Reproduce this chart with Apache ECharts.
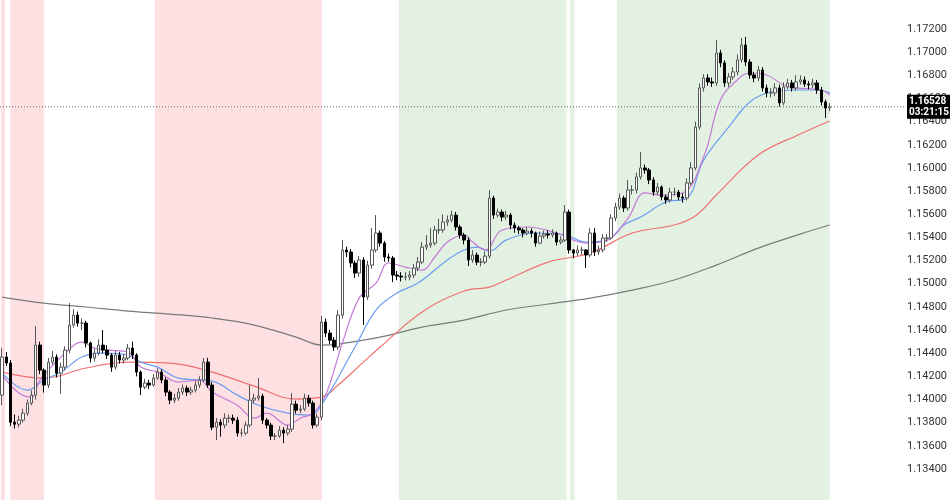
<!DOCTYPE html>
<html>
<head>
<meta charset="utf-8">
<script src="https://cdn.jsdelivr.net/npm/echarts@6/dist/echarts.min.js"></script>
<style>
  html, body { margin: 0; padding: 0; background: #fff; }
  #chart { width: 950px; height: 500px; }
</style>
</head>
<body>
<div id="chart"></div>
<script>
// candle closes, opens follow the previous close (first open given)
const firstOpen = 1.14038;
const closes = [
  1.14367,1.14315,1.13804,1.13787,1.13822,1.13882,1.13969,1.14038,1.14470,1.14254,
  1.14125,1.14323,1.14367,1.14228,1.14280,1.14427,1.14643,1.14729,1.14660,1.14660,
  1.14488,1.14358,1.14401,1.14470,1.14427,1.14384,1.14280,1.14384,1.14341,1.14358,
  1.14444,1.14384,1.14237,1.14107,1.14142,1.14125,1.14185,1.14237,1.14168,1.14064,
  1.13995,1.14012,1.14064,1.14099,1.14064,1.14081,1.14125,1.14168,1.14323,1.14125,
  1.13761,1.13804,1.13779,1.13839,1.13839,1.13822,1.13710,1.13710,1.13779,1.13995,
  1.14012,1.14030,1.13822,1.13779,1.13684,1.13684,1.13735,1.13710,1.13744,1.13960,
  1.13908,1.13917,1.14012,1.13969,1.13779,1.13848,1.14669,1.14574,1.14513,1.14453,
  1.14729,1.15291,1.15274,1.15179,1.15092,1.15205,1.14885,1.15161,1.15291,1.15438,
  1.15351,1.15231,1.15222,1.15075,1.15066,1.15058,1.15058,1.15075,1.15136,1.15187,
  1.15317,1.15334,1.15351,1.15464,1.15464,1.15533,1.15550,1.15593,1.15490,1.15421,
  1.15377,1.15205,1.15248,1.15187,1.15187,1.15239,1.15740,1.15593,1.15619,1.15576,
  1.15593,1.15507,1.15481,1.15464,1.15438,1.15455,1.15438,1.15351,1.15412,1.15429,
  1.15421,1.15438,1.15360,1.15377,1.15619,1.15291,1.15265,1.15291,1.15291,1.15248,
  1.15438,1.15274,1.15291,1.15395,1.15395,1.15567,1.15663,1.15740,1.15654,1.15809,
  1.15809,1.15922,1.16000,1.15982,1.15896,1.15792,1.15835,1.15749,1.15723,1.15792,
  1.15792,1.15749,1.15740,1.15870,1.16000,1.16354,1.16691,1.16777,1.16743,1.16734,
  1.16993,1.16907,1.16734,1.16786,1.16829,1.16933,1.17062,1.16915,1.16803,1.16777,
  1.16846,1.16691,1.16648,1.16648,1.16691,1.16561,1.16699,1.16734,1.16691,1.16743,
  1.16760,1.16725,1.16717,1.16734,1.16673,1.16570,1.16518,1.16528
];
const highs = [
  1.14444,1.14410,1.14341,1.13870,1.13860,1.13920,1.14000,1.14080,1.14634,1.14500,
  1.14270,1.14360,1.14420,1.14390,1.14320,1.14460,1.14833,1.14780,1.14760,1.14700,
  1.14680,1.14500,1.14440,1.14520,1.14600,1.14470,1.14400,1.14420,1.14410,1.14390,
  1.14480,1.14500,1.14400,1.14250,1.14180,1.14170,1.14220,1.14270,1.14260,1.14190,
  1.14080,1.14050,1.14100,1.14130,1.14120,1.14110,1.14160,1.14200,1.14358,1.14360,
  1.14150,1.13840,1.13830,1.13880,1.13870,1.13870,1.13850,1.13750,1.13810,1.14125,
  1.14050,1.14185,1.14050,1.13840,1.13800,1.13710,1.13770,1.13760,1.13780,1.14055,
  1.13990,1.13950,1.14050,1.14040,1.13990,1.13880,1.14721,1.14700,1.14600,1.14540,
  1.14770,1.15377,1.15320,1.15300,1.15200,1.15240,1.15230,1.15200,1.15481,1.15593,
  1.15460,1.15370,1.15260,1.15240,1.15110,1.15100,1.15100,1.15110,1.15170,1.15230,
  1.15360,1.15420,1.15480,1.15500,1.15560,1.15600,1.15590,1.15630,1.15620,1.15510,
  1.15440,1.15400,1.15290,1.15270,1.15220,1.15280,1.15809,1.15760,1.15650,1.15640,
  1.15630,1.15610,1.15530,1.15500,1.15480,1.15490,1.15480,1.15450,1.15450,1.15460,
  1.15460,1.15470,1.15450,1.15410,1.15680,1.15640,1.15300,1.15330,1.15320,1.15300,
  1.15480,1.15480,1.15330,1.15430,1.15430,1.15600,1.15700,1.15780,1.15760,1.15896,
  1.15850,1.15960,1.16138,1.16030,1.16000,1.15920,1.15870,1.15850,1.15770,1.15830,
  1.15830,1.15810,1.15780,1.15910,1.16050,1.16400,1.16730,1.16810,1.16810,1.16780,
  1.17106,1.17020,1.16930,1.16820,1.16870,1.16980,1.17123,1.17131,1.16940,1.16830,
  1.16880,1.16870,1.16720,1.16690,1.16730,1.16720,1.16740,1.16770,1.16760,1.16800,
  1.16800,1.16790,1.16750,1.16770,1.16760,1.16700,1.16590,1.16560
];
const lows = [
  1.13951,1.14290,1.13770,1.13750,1.13760,1.13800,1.13860,1.13950,1.14000,1.14220,
  1.14060,1.14100,1.14300,1.14190,1.14050,1.14250,1.14400,1.14620,1.14630,1.14600,
  1.14450,1.14320,1.14330,1.14380,1.14400,1.14350,1.14240,1.14260,1.14310,1.14310,
  1.14340,1.14350,1.14200,1.14038,1.14090,1.14090,1.14110,1.14170,1.14140,1.14030,
  1.13960,1.13970,1.13990,1.14040,1.14030,1.14040,1.14060,1.14100,1.14150,1.14100,
  1.13735,1.13649,1.13680,1.13750,1.13800,1.13790,1.13680,1.13680,1.13690,1.13760,
  1.13970,1.13990,1.13790,1.13750,1.13650,1.13650,1.13670,1.13624,1.13690,1.13720,
  1.13880,1.13880,1.13900,1.13940,1.13750,1.13760,1.13820,1.14540,1.14480,1.14420,
  1.14430,1.14700,1.15230,1.15140,1.15050,1.15060,1.14643,1.14860,1.15130,1.15270,
  1.15320,1.15190,1.15190,1.15014,1.15030,1.15020,1.15030,1.15030,1.15050,1.15110,
  1.15170,1.15290,1.15310,1.15330,1.15430,1.15440,1.15500,1.15530,1.15460,1.15390,
  1.15340,1.15153,1.15180,1.15160,1.15150,1.15170,1.15220,1.15560,1.15570,1.15540,
  1.15550,1.15470,1.15440,1.15430,1.15400,1.15420,1.15400,1.15320,1.15340,1.15390,
  1.15390,1.15400,1.15330,1.15340,1.15360,1.15260,1.15220,1.15240,1.15250,1.15136,
  1.15230,1.15240,1.15250,1.15270,1.15360,1.15380,1.15540,1.15640,1.15620,1.15630,
  1.15770,1.15780,1.15900,1.15950,1.15860,1.15760,1.15770,1.15720,1.15690,1.15700,
  1.15760,1.15720,1.15700,1.15720,1.15850,1.15980,1.16330,1.16660,1.16710,1.16700,
  1.16710,1.16870,1.16700,1.16700,1.16760,1.16800,1.16910,1.16880,1.16770,1.16740,
  1.16750,1.16660,1.16610,1.16610,1.16620,1.16530,1.16540,1.16680,1.16660,1.16670,
  1.16720,1.16700,1.16680,1.16690,1.16640,1.16540,1.16432,1.16490
];

// moving averages: [candle index, price]
const maFast = [
  [0,1.14211],[4,1.14056],[7,1.14021],[9,1.14168],[15,1.14401],[19,1.14496],[22,1.14444],
  [25,1.14427],[30,1.14410],[33,1.14280],[37,1.14237],[42,1.14151],[47,1.14168],[50,1.14064],
  [56,1.13951],[60,1.13839],[63,1.13882],[68,1.13779],[71,1.13839],[74,1.13882],[77,1.14038],
  [81,1.14488],[85,1.14876],[89,1.15006],[92,1.15179],[96,1.15144],[100,1.15118],[103,1.15231],
  [106,1.15360],[110,1.15421],[112,1.15360],[115,1.15291],[119,1.15464],[125,1.15490],
  [132,1.15438],[139,1.15351],[144,1.15377],[149,1.15567],[153,1.15784],[157,1.15766],
  [162,1.15784],[167,1.16095],[171,1.16587],[175,1.16760],[178,1.16820],[182,1.16803],
  [186,1.16717],[189,1.16691],[195,1.16673],[197,1.16630]
];
const maMid = [
  [0,1.14228],[6,1.14081],[10,1.14168],[14,1.14237],[19,1.14367],[24,1.14401],[30,1.14384],
  [33,1.14323],[37,1.14280],[42,1.14185],[50,1.14159],[56,1.14038],[61,1.13951],[68,1.13882],
  [73,1.13865],[76,1.13951],[84,1.14453],[89,1.14773],[94,1.14920],[99,1.15006],[106,1.15205],
  [110,1.15291],[113,1.15317],[116,1.15282],[120,1.15377],[127,1.15438],[134,1.15421],
  [139,1.15360],[144,1.15377],[148,1.15507],[152,1.15576],[158,1.15706],[163,1.15740],
  [167,1.16069],[173,1.16354],[178,1.16570],[183,1.16656],[189,1.16673],[194,1.16673],[197,1.16648]
];
const maSlow = [
  [0,1.14237],[10,1.14185],[20,1.14272],[30,1.14323],[40,1.14315],[50,1.14237],[60,1.14116],
  [70,1.14004],[76,1.14021],[80,1.14125],[86,1.14323],[90,1.14453],[100,1.14756],[110,1.14937],
  [116,1.14971],[120,1.15032],[130,1.15187],[140,1.15265],[150,1.15438],[160,1.15507],
  [165,1.15585],[170,1.15766],[180,1.16112],[190,1.16293],[197,1.16406]
];
const maLong = [
  [0,1.14885],[10,1.14833],[20,1.14799],[30,1.14764],[40,1.14738],[50,1.14704],[60,1.14643],
  [70,1.14539],[76,1.14470],[80,1.14479],[90,1.14539],[100,1.14626],[110,1.14686],[120,1.14773],
  [130,1.14825],[140,1.14876],[150,1.14945],[160,1.15032],[170,1.15161],[180,1.15308],
  [190,1.15429],[197,1.15507]
];

// session shading, in candle-slot units
const pinkBands = [[0.2, 1.2], [2.4, 10.4], [36.6, 76.1]];
const greenBands = [[94.3, 134.0], [134.8, 135.9], [145.9, 196.2]];

const slotCount = 214;
const lastPrice = 1.16528;
const lastLabel = "1.16528\n03:21:15";

const categories = [];
for (let i = 0; i < slotCount; i++) categories.push(String(i));

const candles = closes.map((c, i) => {
  const o = i === 0 ? firstOpen : closes[i - 1];
  return [o, c, lows[i], highs[i]];
});

const bands = [];
pinkBands.forEach(([a, b]) => bands.push([{ xAxis: a, itemStyle: { color: "#fde0e2" } }, { xAxis: b }]));
greenBands.forEach(([a, b]) => bands.push([{ xAxis: a, itemStyle: { color: "#e3f1e2" } }, { xAxis: b }]));

function maSeries(data, color) {
  return {
    type: "line",
    xAxisIndex: 0,
    yAxisIndex: 0,
    data: data,
    smooth: 0.4,
    showSymbol: false,
    lineStyle: { width: 1.2, color: color },
    z: 3,
    silent: true,
  };
}

// dotted last-price line across the whole plot, tag sits on the price scale
const lastPriceSeries = {
  type: "line",
  xAxisIndex: 1,
  yAxisIndex: 2,
  data: [[0, lastPrice], [slotCount, lastPrice]],
  showSymbol: false,
  silent: true,
  z: 2,
  lineStyle: { type: [1, 2], color: "#666", width: 1 },
  endLabel: {
    show: true,
    formatter: lastLabel,
    backgroundColor: "#000",
    color: "#fff",
    fontSize: 10,
    fontFamily: "Roboto",
    fontWeight: "bold",
    padding: [1, 2],
    lineHeight: 11,
    distance: 2,
  },
};

const chart = echarts.init(document.getElementById("chart"));
const option = {
  animation: false,
  backgroundColor: "#fff",
  grid: [
    { left: 0, right: 45, top: 29, bottom: 31 },
    { left: 0, right: 45, top: 0, bottom: 0 },
  ],
  xAxis: [
    { type: "category", gridIndex: 0, data: categories, boundaryGap: true, show: false },
    { type: "value", gridIndex: 1, min: 0, max: slotCount, show: false },
  ],
  yAxis: [
    {
      type: "value",
      gridIndex: 0,
      position: "right",
      min: 1.134,
      max: 1.172,
      interval: 0.002,
      axisLine: { show: false },
      axisTick: { show: false },
      splitLine: { show: false },
      axisLabel: {
        margin: 8,
        color: "#333",
        fontSize: 11,
        fontFamily: "Roboto",
        formatter: (v) => v.toFixed(5),
      },
    },
    { type: "value", gridIndex: 1, min: 0, max: 1, show: false },
    // same price scale as axis 0, full height grid (1.17451 at top, 1.13131 at bottom)
    { type: "value", gridIndex: 1, min: 1.13131, max: 1.17451, show: false },
  ],
  series: [
    {
      type: "line",
      xAxisIndex: 1,
      yAxisIndex: 1,
      data: [],
      z: 0,
      silent: true,
      markArea: { silent: true, data: bands },
    },
    maSeries(maLong, "#7a7a7a"),
    maSeries(maSlow, "#f07070"),
    maSeries(maMid, "#6a9cf2"),
    maSeries(maFast, "#c27ad6"),
    lastPriceSeries,
    {
      type: "candlestick",
      xAxisIndex: 0,
      yAxisIndex: 0,
      data: candles,
      barWidth: 3,
      z: 4,
      itemStyle: {
        color: "#ffffff",
        color0: "#000000",
        borderColor: "#555555",
        borderColor0: "#000000",
        borderWidth: 1,
      },
    },
  ],
};
option && chart.setOption(option);
</script>
</body>
</html>
